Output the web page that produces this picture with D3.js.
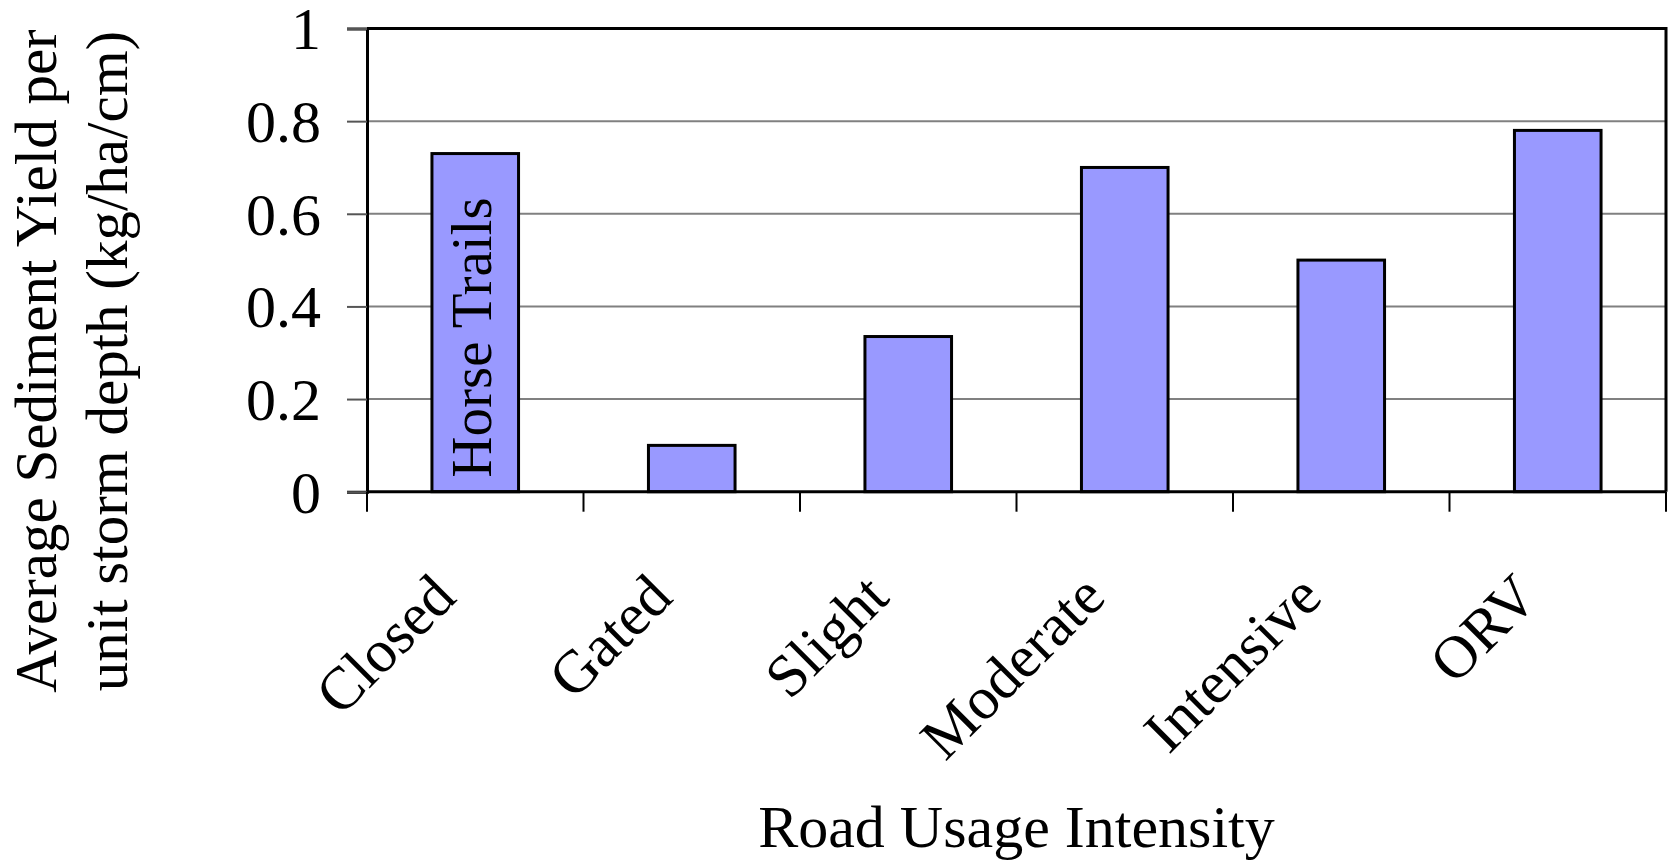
<!DOCTYPE html>
<html>
<head>
<meta charset="utf-8">
<script src="https://cdn.jsdelivr.net/npm/d3@7"></script>
<style>
  html, body { margin: 0; padding: 0; background: #fff; }
  svg { display: block; font-family: "Liberation Serif", "Times New Roman", serif; }
</style>
</head>
<body>
<svg id="chart" width="1669" height="862"></svg>
<script>
// Road usage categories and average sediment yield per unit storm depth
const categories = ["Closed", "Gated", "Slight", "Moderate", "Intensive", "ORV"];
const sedimentYield = [0.73, 0.10, 0.335, 0.70, 0.50, 0.78];
const yTicks = [0, 0.2, 0.4, 0.6, 0.8, 1];
const yTickLabels = ["0", "0.2", "0.4", "0.6", "0.8", "1"];
const barNote = "Horse Trails";
const xTitle = "Road Usage Intensity";
const yTitleLines = ["Average Sediment Yield per", "unit storm depth (kg/ha/cm)"];

const svg = d3.select("#chart");
const plot = { left: 367, right: 1666, top: 28.5, bottom: 491.7 };

const x = d3.scaleBand()
  .domain(categories)
  .range([plot.left, plot.right])
  .paddingInner(0.6)
  .paddingOuter(0.3);

const y = d3.scaleLinear()
  .domain([0, 1])
  .range([plot.bottom, plot.top]);

// horizontal gridlines
svg.append("g")
  .selectAll("line")
  .data(yTicks.filter(d => d > 0 && d < 1))
  .join("line")
  .attr("x1", plot.left).attr("x2", plot.right)
  .attr("y1", d => y(d)).attr("y2", d => y(d))
  .attr("stroke", "#808080").attr("stroke-width", 2);

// plot area frame (top and right edges)
svg.append("path")
  .attr("d", `M${plot.left},${plot.top}H${plot.right}V${plot.bottom}`)
  .attr("fill", "none").attr("stroke", "#000").attr("stroke-width", 3);

// bars
svg.append("g")
  .selectAll("rect")
  .data(categories.map((c, i) => ({ c, v: sedimentYield[i] })))
  .join("rect")
  .attr("x", d => x(d.c))
  .attr("width", x.bandwidth())
  .attr("y", d => y(d.v))
  .attr("height", d => y(0) - y(d.v))
  .attr("fill", "#9999FF")
  .attr("stroke", "#000")
  .attr("stroke-width", 3);

// y axis
const yAxis = d3.axisLeft(y)
  .tickValues(yTicks)
  .tickFormat((d, i) => yTickLabels[i])
  .tickSize(20)
  .tickPadding(26);
const gy = svg.append("g")
  .attr("transform", `translate(${plot.left},0)`)
  .call(yAxis);
gy.select(".domain").attr("stroke", "#000").attr("stroke-width", 3);
gy.selectAll(".tick line").attr("stroke", "#555").attr("stroke-width", 2);
gy.selectAll(".tick text")
  .attr("font-family", "Liberation Serif")
  .attr("font-size", 60)
  .attr("fill", "#000")
  .attr("dy", "0.34em");

// x axis: category separators below the baseline
const bounds = d3.range(categories.length + 1).map(i => plot.left + i * (plot.right - plot.left) / categories.length);
svg.append("g")
  .selectAll("line")
  .data(bounds)
  .join("line")
  .attr("x1", d => d).attr("x2", d => d)
  .attr("y1", plot.bottom).attr("y2", plot.bottom + 20)
  .attr("stroke", "#000").attr("stroke-width", 2);
svg.append("line")
  .attr("x1", plot.left).attr("x2", plot.right)
  .attr("y1", plot.bottom).attr("y2", plot.bottom)
  .attr("stroke", "#000").attr("stroke-width", 3);

// rotated category labels
svg.append("g")
  .selectAll("text")
  .data(categories)
  .join("text")
  .attr("transform", d => `translate(${x(d) + x.bandwidth() / 2 - 17},${plot.bottom + 108}) rotate(-45)`)
  .attr("text-anchor", "end")
  .attr("font-size", 60)
  .attr("fill", "#000")
  .text(d => d);

// note inside the first bar
svg.append("text")
  .attr("transform", `translate(${x(categories[0]) + x.bandwidth() / 2 + 16},${y(0) - 14}) rotate(-90)`)
  .attr("text-anchor", "start")
  .attr("font-size", 57)
  .attr("fill", "#000")
  .text(barNote);

// axis titles
svg.append("text")
  .attr("x", (plot.left + plot.right) / 2).attr("y", 847)
  .attr("text-anchor", "middle")
  .attr("font-size", 60)
  .attr("fill", "#000")
  .text(xTitle);

const yt = svg.append("text")
  .attr("transform", "translate(56,361) rotate(-90)")
  .attr("text-anchor", "middle")
  .attr("font-size", 59)
  .attr("fill", "#000");
yTitleLines.forEach((line, i) => {
  yt.append("tspan")
    .attr("x", 0)
    .attr("dy", i === 0 ? 0 : 71)
    .text(line);
});
</script>
</body>
</html>
